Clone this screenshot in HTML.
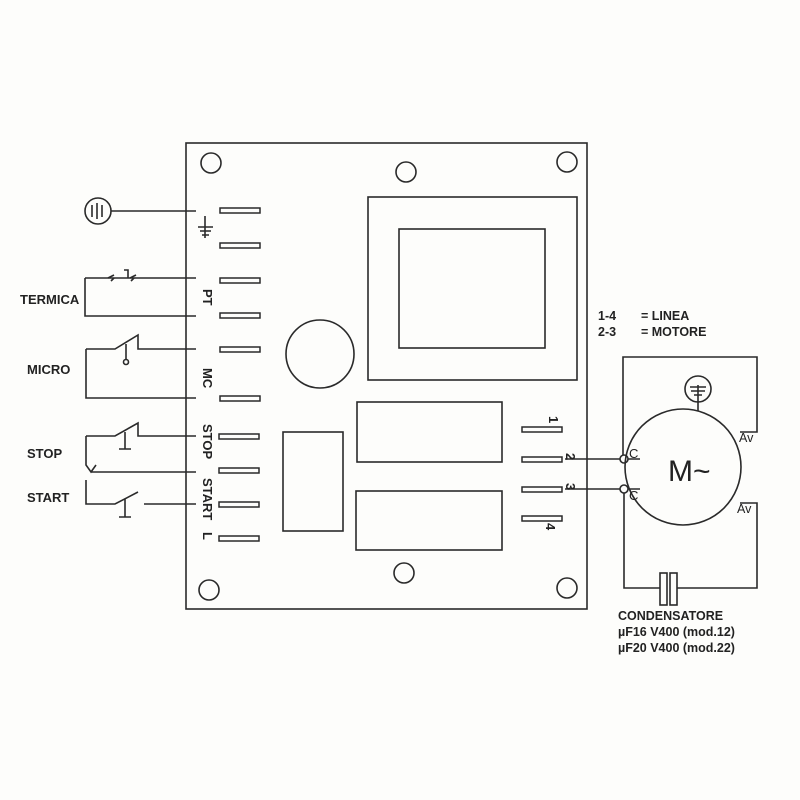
<!DOCTYPE html>
<html><head><meta charset="utf-8"><style>
html,body{margin:0;padding:0;background:#fff;}
svg{display:block;}
text{font-family:"Liberation Sans",Arial,sans-serif;fill:#222;}
</style></head><body>
<svg width="800" height="800" viewBox="0 0 800 800" xmlns="http://www.w3.org/2000/svg">
<rect width="800" height="800" fill="#fdfdfb"/>
<g stroke="#2a2a2a" stroke-width="1.6" fill="none">
<rect x="186" y="143" width="401" height="466"/>
<circle cx="211" cy="163" r="10"/><circle cx="406" cy="172" r="10"/><circle cx="567" cy="162" r="10"/>
<circle cx="209" cy="590" r="10"/><circle cx="404" cy="573" r="10"/><circle cx="567" cy="588" r="10"/>
<rect x="368" y="197" width="209" height="183"/>
<rect x="399" y="229" width="146" height="119"/>
<circle cx="320" cy="354" r="34"/>
<rect x="357" y="402" width="145" height="60"/>
<rect x="356" y="491" width="146" height="59"/>
<rect x="283" y="432" width="60" height="99"/>
<g stroke-width="1.5">
<rect x="220" y="208" width="40" height="5"/><rect x="220" y="243" width="40" height="5"/>
<rect x="220" y="278" width="40" height="5"/><rect x="220" y="313" width="40" height="5"/>
<rect x="220" y="347" width="40" height="5"/><rect x="220" y="396" width="40" height="5"/>
<rect x="219" y="434" width="40" height="5"/><rect x="219" y="468" width="40" height="5"/>
<rect x="219" y="502" width="40" height="5"/><rect x="219" y="536" width="40" height="5"/>
<rect x="522" y="427" width="40" height="5"/><rect x="522" y="457" width="40" height="5"/>
<rect x="522" y="487" width="40" height="5"/><rect x="522" y="516" width="40" height="5"/>
</g>
<path d="M205 216 V238 M198 227 H213 M200 231 H211 M202 235 H209"/>
<circle cx="98" cy="211" r="13"/>
<path d="M92 205 V217 M97 203 V219 M102 205 V217"/>
<path d="M111 211 H196"/>
<path d="M85 278 H196 M85 278 V316 H196"/>
<path d="M108 278 l6 -3 M114 278 l-3 3 M128 278 V270 H124 M130 278 l6 -3 M134 278 l-3 3"/>
<path d="M86 349 H115 L138 335 V349 H196 M86 349 V398 H196 M126 344 V360"/>
<circle cx="126" cy="362" r="2.5"/>
<path d="M86 436 H115 L138 423 V436 H196 M86 436 V465 L91 472 L96 465 M91 472 H196 M125 432 V449 M119 449 H131"/>
<path d="M86 480 V504 H115 L138 492 M144 504 H196 M125 499 V517 M119 517 H131"/>
<path d="M565 459 H620 M565 489 H620"/>
<circle cx="624" cy="459" r="4"/><circle cx="624" cy="489" r="4"/>
<path d="M628 459 H640 M628 489 H640"/>
<circle cx="683" cy="467" r="58"/>
<path d="M623 455 V357 H757 V432 H740 M698 385 V411"/>
<circle cx="698" cy="389" r="13"/>
<path d="M690 387 H706 M691 391 H705 M694 395 H702"/>
<path d="M624 493 V588 H660 M677 588 H757 V503 H740"/>
<rect x="660" y="573" width="7" height="32"/><rect x="670" y="573" width="7" height="32"/>
</g>
<g font-size="13" font-weight="bold">
<text x="20" y="304">TERMICA</text>
<text x="27" y="374">MICRO</text>
<text x="27" y="458">STOP</text>
<text x="27" y="502">START</text>
</g>
<g font-size="13" font-weight="bold">
<text transform="translate(203,289) rotate(90)">PT</text>
<text transform="translate(203,368) rotate(90)">MC</text>
<text transform="translate(203,424) rotate(90)">STOP</text>
<text transform="translate(203,478) rotate(90)">START</text>
<text transform="translate(203,532) rotate(90)">L</text>
</g>
<g font-size="13" font-weight="bold">
<text transform="translate(549,416) rotate(90)">1</text>
<text transform="translate(566,453) rotate(90)">2</text>
<text transform="translate(566,483) rotate(90)">3</text>
<text transform="translate(546,523) rotate(90)">4</text>
</g>
<g font-size="12.5" font-weight="bold">
<text x="598" y="320">1-4</text><text x="641" y="320">= LINEA</text>
<text x="598" y="336">2-3</text><text x="641" y="336">= MOTORE</text>
<text x="618" y="620">CONDENSATORE</text>
<text x="618" y="636">µF16  V400 (mod.12)</text>
<text x="618" y="652">µF20  V400 (mod.22)</text>
</g>
<text x="629" y="458" font-size="13">C</text>
<text x="629" y="500" font-size="13">C</text>
<text x="739" y="442" font-size="12.5">Av</text>
<text x="737" y="513" font-size="12.5">Av</text>
<text x="668" y="481" font-size="30">M~</text>
</svg>
</body></html>
